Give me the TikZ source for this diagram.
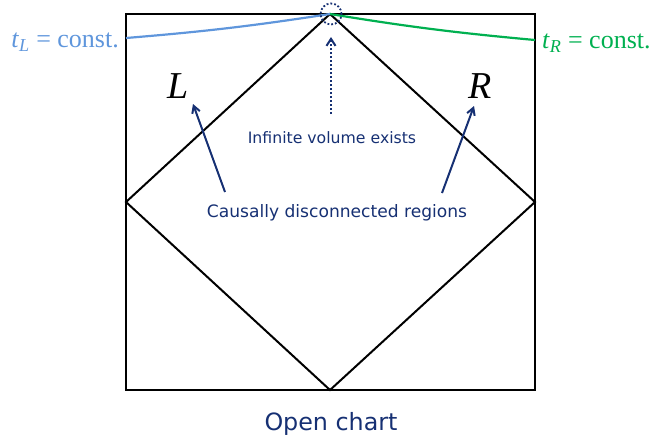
\documentclass[tikz,border=0pt]{standalone}
\usepackage{fontspec}
\setmainfont{Liberation Serif}
\newfontfamily\labfont{DejaVu Sans}
\usetikzlibrary{arrows.meta}
\definecolor{navy}{RGB}{22,48,115}
\definecolor{lblue}{RGB}{95,150,220}
\definecolor{lgreen}{RGB}{0,176,80}
\begin{document}
\begin{tikzpicture}[x=1pt,y=-1pt,
  frame/.style={draw=black,line width=2pt},
  note/.style={text=navy,font=\labfont,inner sep=0pt},
  pointer/.style={draw=navy,line width=2pt,-{Straight Barb[length=7pt,width=8pt,line width=2pt]}},
  letter/.style={font=\fontsize{38}{42}\selectfont\itshape,inner sep=0pt}]
\useasboundingbox (0,0) rectangle (653,445);
% corners
\coordinate (tl) at (126,14);
\coordinate (br) at (535,390);
\coordinate (top) at (330,14);
\coordinate (lft) at (126,202);
\coordinate (rgt) at (535,202);
\coordinate (bot) at (330,390);
\coordinate (bl) at (126,38);
\coordinate (gr) at (535,40);
\draw[frame] (tl) rectangle (br);
\draw[frame,line join=miter] (top) -- (lft) -- (bot) -- (rgt) -- cycle;
% time slices
\draw[lblue,line width=2.2pt] (bl) to[bend right=2] (top);
\draw[lgreen,line width=2.2pt] (top) to[bend right=2] (gr);
\node[text=lblue,anchor=east,inner sep=0pt,font=\fontsize{26}{30}\selectfont] (tL) at (119,42) {\textit{t}\textsubscript{\textit{L}} = const.};
\node[text=lgreen,anchor=west,inner sep=0pt,font=\fontsize{26}{30}\selectfont] (tR) at (542,43) {\textit{t}\textsubscript{\textit{R}} = const.};
% dotted circle
\node[draw=navy,circle,dotted,line width=1.8pt,minimum size=21pt,inner sep=0pt] (circ) at (331,14) {};
% labels
\node[letter] (L) at (178,86) {L};
\node[letter] (R) at (480,86) {R};
\node[note,font=\labfont\fontsize{15.7}{19}\selectfont] (inf) at (332,138) {Infinite volume exists};
\node[note,font=\labfont\fontsize{17.1}{21}\selectfont] (caus) at (337,213) {Causally disconnected regions};
\node[note,font=\labfont\fontsize{23.8}{28}\selectfont] (open) at (331,424) {Open chart};
% arrows
\coordinate (infTop) at (331,114);
\draw[navy,line width=2pt,dotted,-{Straight Barb[length=7pt,width=9pt,line width=2pt]}] (infTop) -- (331,37);
\coordinate (cl) at (225,192);
\coordinate (cr) at (442,193);
\coordinate (la) at (193,104);
\coordinate (ra) at (474,106);
\draw[pointer] (cl) -- (la);
\draw[pointer] (cr) -- (ra);
\end{tikzpicture}
\end{document}
